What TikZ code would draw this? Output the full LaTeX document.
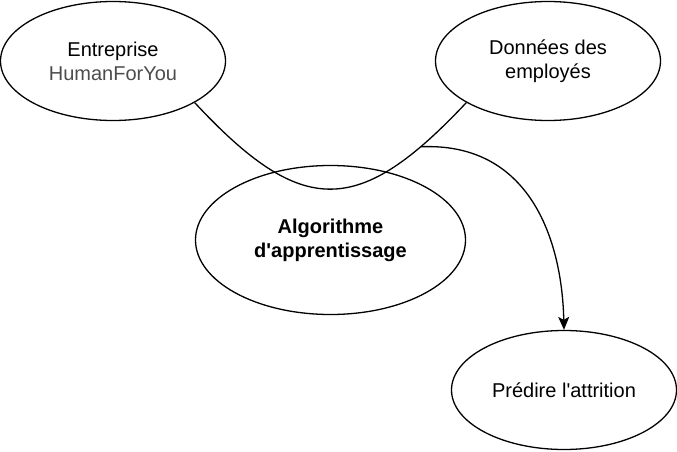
\documentclass[tikz,border=0pt]{standalone}
\usepackage{fontspec}
\setmainfont{Liberation Sans}[Ligatures=TeXOff]
\usetikzlibrary{shapes.geometric,arrows.meta}
\begin{document}
\begin{tikzpicture}[x=1pt,y=-1pt,
  ell/.style={ellipse, draw, line width=1.3pt, inner sep=0pt, align=center,
    font=\fontsize{20}{24}\selectfont},
  conn/.style={line width=1.3pt}]
\useasboundingbox (0,0) rectangle (677,452);
\node[ell, minimum width=225pt, minimum height=119pt] (e1) at (113,61)
  {Entreprise\\\textcolor[gray]{0.3}{HumanForYou}};
\node[ell, minimum width=225pt, minimum height=119pt] (e2) at (548,61)
  {Donn\'ees des\\employ\'es};
\node[ell, minimum width=270pt, minimum height=149pt, font=\fontsize{20}{24}\selectfont\bfseries] (e3) at (330.5,240)
  {Algorithme\\d'apprentissage};
\node[ell, minimum width=225pt, minimum height=119pt] (e4) at (564,390)
  {Pr\'edire l'attrition};
\draw[conn] (e1.-27.7) .. controls (302,218) and (358,218) .. coordinate[pos=0.85] (m) (e2.207.7);
\draw[conn, -{Stealth[length=13pt, width=11pt, inset=3pt]}] (m) .. controls (530,142) and (562,240) .. (e4.north);
\end{tikzpicture}
\end{document}
